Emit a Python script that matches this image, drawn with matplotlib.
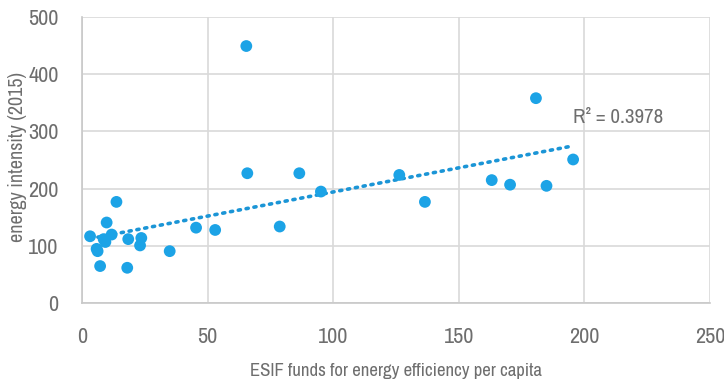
import numpy as np
import matplotlib
matplotlib.use("Agg")
import matplotlib.pyplot as plt
from matplotlib import font_manager as fm

# ESIF funds for energy efficiency per capita vs. energy intensity (2015)
esif_per_capita = [3.2, 5.8, 6.2, 7.2, 8.6, 9.3, 9.8, 11.8, 13.7, 18.4,
                   18.0, 23.6, 23.1, 34.9, 45.4, 53.0, 65.4, 65.8, 86.5, 95.1,
                   78.7, 126.3, 136.5, 180.7, 163.1, 170.4, 184.9, 195.5]
energy_intensity = [117, 95, 91, 65, 112, 107, 141, 120, 177, 112,
                    62, 114, 101, 91, 132, 128, 449, 227, 227, 195,
                    134, 224, 177, 358, 215, 207, 205, 251]
r2_label = "R² = 0.3978"

x_ticks = [0, 50, 100, 150, 200, 250]
y_ticks = [0, 100, 200, 300, 400, 500]

names = {f.name for f in fm.fontManager.ttflist}
narrow = [n for n in sorted(names) if "Narrow" in n or "Condensed" in n]
family = [narrow[0]] if narrow else []
family += ["DejaVu Sans"]
plt.rcParams["font.family"] = family

point_color = "#1ca3e6"
text_color = "#6e6e6e"

fig = plt.figure(figsize=(7.24, 3.82), dpi=100)
ax = fig.add_axes([0.1133, 0.206, 0.8674, 0.750])

ax.scatter(esif_per_capita, energy_intensity, s=72, color=point_color,
           edgecolors="none", zorder=3)

x = np.array(esif_per_capita)
y = np.array(energy_intensity)
slope, intercept = np.polyfit(x, y, 1)
xs = np.array([x.min(), x.max()])
ax.plot(xs, slope * xs + intercept, linestyle=(0, (0.6, 1.6)), linewidth=2.6,
        color="#1b95d6", dash_capstyle="round", zorder=2)

ax.text(195.5, 325, r2_label, fontsize=15, color=text_color, va="center",
        ha="left")

ax.set_xlim(0, 250)
ax.set_ylim(0, 500)
ax.set_xticks(x_ticks)
ax.set_yticks(y_ticks)
ax.tick_params(axis="both", length=0, labelsize=16, colors=text_color)
ax.tick_params(axis="x", pad=17)
ax.tick_params(axis="y", pad=17)
ax.grid(True, color="#d9d9d9", linewidth=1.2, zorder=0)
ax.set_axisbelow(True)
for side in ["top", "right"]:
    ax.spines[side].set_visible(False)
for side in ["left", "bottom"]:
    ax.spines[side].set_color("#c8c8c8")
    ax.spines[side].set_linewidth(1.2)

ax.set_xlabel("ESIF funds for energy efficiency per capita", fontsize=13.5,
              color=text_color)
ax.xaxis.set_label_coords(0.5, -0.235)
ax.xaxis.label.set_va("center")
ax.set_ylabel("energy intensity (2015)", fontsize=14.5, color=text_color)
ax.yaxis.set_label_coords(-0.102, 0.51)
ax.yaxis.label.set_va("center")

fig.savefig("out.png", dpi=100)
